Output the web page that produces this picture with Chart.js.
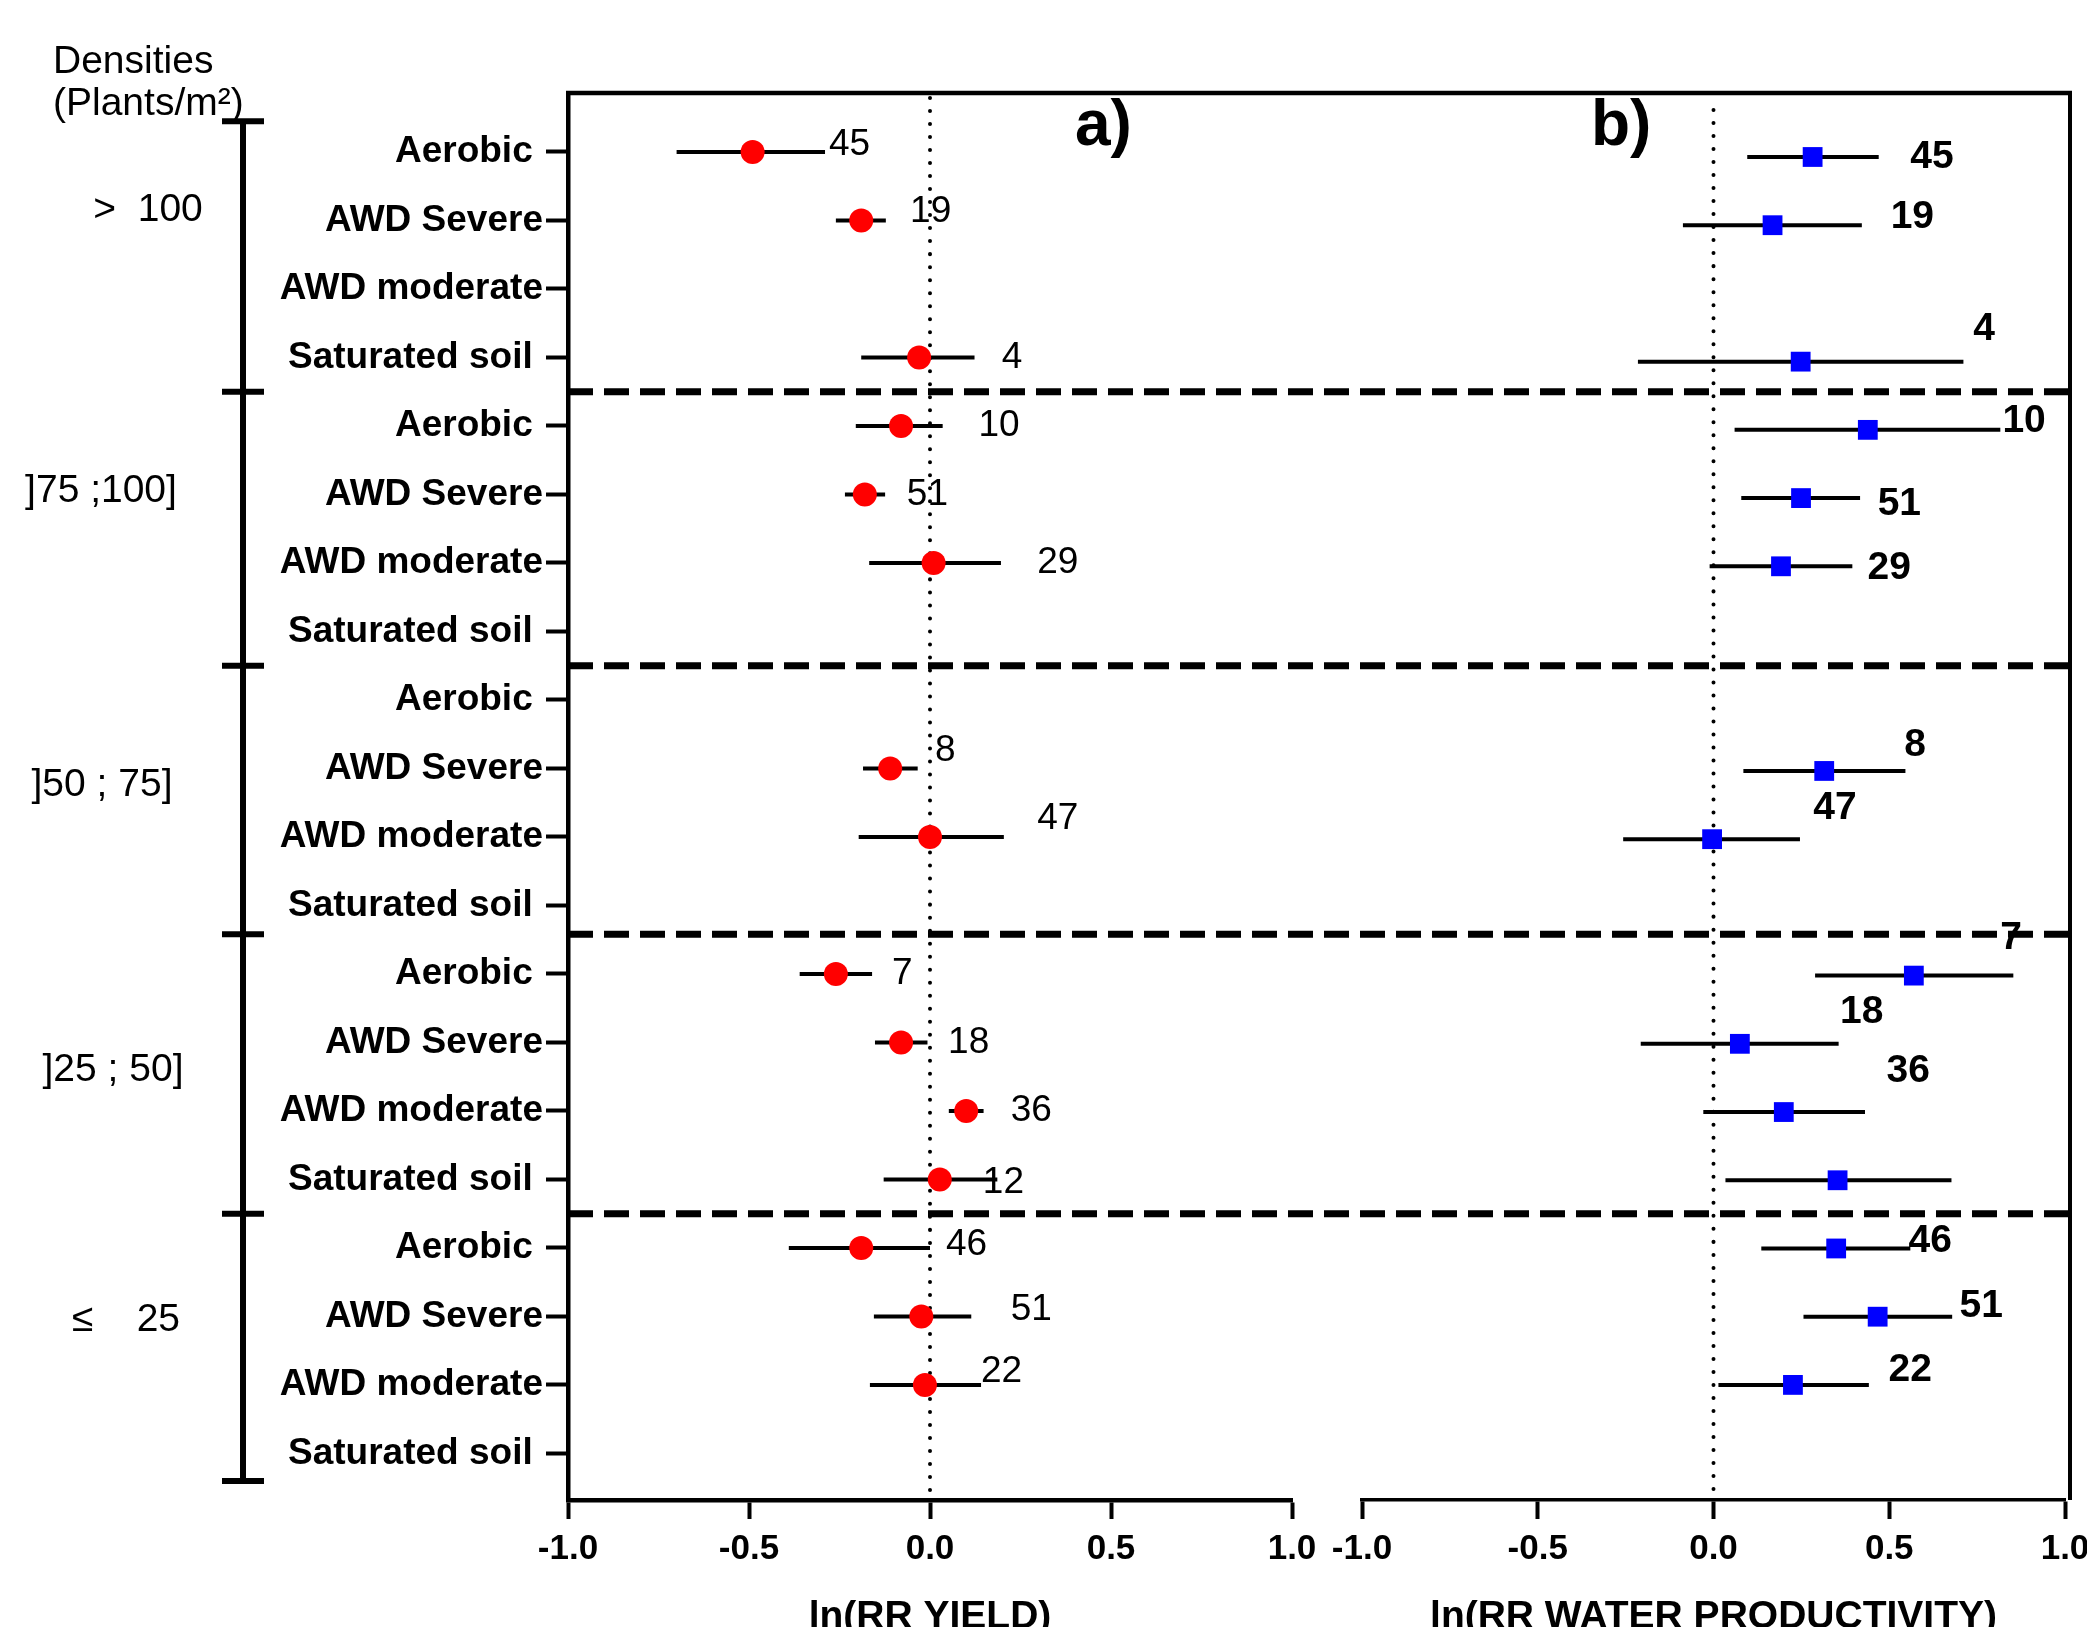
<!DOCTYPE html>
<html>
<head>
<meta charset="utf-8">
<script src="https://cdn.jsdelivr.net/npm/chart.js@4.4.0/dist/chart.umd.min.js"></script>
<style>
  html, body { margin: 0; padding: 0; background: #fff; overflow: hidden; }
  #wrap { position: relative; width: 2087px; height: 1627px; }
  #wrap canvas { position: absolute; left: 0; top: 0; }
</style>
</head>
<body>
<div id="wrap">
  <canvas id="yield-chart" width="2087" height="1627"></canvas>
  <canvas id="wp-chart" width="2087" height="1627"></canvas>
</div>
<script>
// rows: 5 density groups x 4 water regimes, top to bottom
const treatments = ['Aerobic ', 'AWD Severe', 'AWD moderate', 'Saturated soil '];
const densityGroups = ['>  100', ']75 ;100]', ']50 ; 75]', ']25 ; 50]', '\u2264    25'];
const rowLabels = densityGroups.flatMap(() => treatments);

// a) ln(RR yield): mean, 95% CI and number of observations
const yieldMean = [-0.49, -0.19, null, -0.03,  -0.08, -0.18, 0.01, null,  null, -0.11, 0.00, null,  -0.26, -0.08, 0.10, 0.027,  -0.19, -0.024, -0.014, null];
const yieldLow  = [-0.70, -0.26, null, -0.19,  -0.205, -0.235, -0.168, null,  null, -0.185, -0.197, null,  -0.36, -0.152, 0.052, -0.128,  -0.39, -0.155, -0.166, null];
const yieldHigh = [-0.29, -0.122, null, 0.123,  0.035, -0.124, 0.196, null,  null, -0.034, 0.204, null,  -0.16, -0.007, 0.148, 0.186,  0.00, 0.114, 0.141, null];
const yieldN    = [45, 19, null, 4,  10, 51, 29, null,  null, 8, 47, null,  7, 18, 36, 12,  46, 51, 22, null];

// b) ln(RR water productivity)
const wpMean = [0.282, 0.168, null, 0.248,  0.439, 0.249, 0.192, null,  null, 0.315, -0.004, null,  0.570, 0.075, 0.200, 0.353,  0.349, 0.467, 0.226, null];
const wpLow  = [0.096, -0.087, null, -0.215,  0.06, 0.079, -0.011, null,  null, 0.085, -0.257, null,  0.289, -0.207, -0.029, 0.034,  0.136, 0.256, 0.014, null];
const wpHigh = [0.470, 0.422, null, 0.711,  0.816, 0.417, 0.395, null,  null, 0.546, 0.246, null,  0.853, 0.356, 0.431, 0.677,  0.560, 0.679, 0.442, null];
const wpN    = [45, 19, null, 4,  10, 51, 29, null,  null, 8, 47, null,  7, 18, 36, null,  46, 51, 22, null];

// where the n labels sit (x in ln units, vertical shift in rows)
const yieldLabelX  = [-0.279, -0.055, null, 0.198,  0.134, -0.064, 0.296, null,  null, 0.014, 0.296, null,  -0.105, 0.05, 0.223, 0.146,  0.044, 0.223, 0.141, null];
const yieldLabelDy = [-0.1, -0.13, 0, 0,  0, 0, 0, 0,  0, -0.26, -0.26, 0,  0, 0, 0, 0.05,  -0.05, -0.1, -0.19, 0];
const wpLabelX  = [0.560, 0.504, null, 0.739,  0.822, 0.467, 0.438, null,  null, 0.543, 0.284, null,  0.816, 0.360, 0.492, null,  0.555, 0.70, 0.498, null];
const wpLabelDy = [0, -0.12, 0, -0.47,  -0.12, 0.09, 0.03, 0,  0, -0.38, -0.45, 0,  -0.55, -0.47, -0.6, 0,  -0.11, -0.16, -0.21, 0];

// group brackets (row units) and where each density label goes
const groupBounds = [-0.45, 3.5, 7.5, 11.42, 15.5, 19.4];
const groupLabelRow = [0.85, 4.95, 9.25, 13.4, 17.05];
const groupLabelX = [148, 101, 102, 113, 126];

Chart.defaults.font.family = "'Liberation Sans', Arial, Helvetica, sans-serif";
Chart.defaults.color = '#000';

const W = 2087;
const PANEL_B_PAD_RIGHT = 22;
const FRAME_RIGHT = W - PANEL_B_PAD_RIGHT + 5;

function toPoints(values) {
    return values.map((v, i) => ({ x: v, y: i })).filter(p => p.x !== null);
}

function xAxis(title, borderWidth) {
    return {
        type: 'linear', position: 'bottom', min: -1, max: 1,
        ticks: {
            stepSize: 0.5,
            maxRotation: 0,
            padding: 9,
            font: { size: 35, weight: 'bold' },
            color: '#000',
            callback: v => v.toFixed(1)
        },
        grid: { display: true, drawOnChartArea: false, drawTicks: true, tickLength: 19, tickWidth: 4, tickColor: '#000' },
        border: { display: true, color: '#000', width: borderWidth },
        title: { display: true, text: title, color: '#000', padding: 0, font: { size: 39, weight: 'bold', lineHeight: 0.5 } },
        afterFit: s => { s.height = 127; s.paddingLeft = 0; s.paddingRight = 0; }
    };
}

function forestPlugin(id, opts) {
    return {
        id: id,
        beforeDatasetsDraw(chart) {
            const { ctx, chartArea } = chart;
            const xs = chart.scales.x, ys = chart.scales.y;
            const x0 = xs.getPixelForValue(0);

            // dotted line of no effect
            ctx.save();
            ctx.strokeStyle = '#000';
            ctx.lineWidth = 4;
            ctx.lineCap = 'round';
            ctx.setLineDash([0.01, 13]);
            ctx.beginPath();
            ctx.moveTo(x0, chartArea.top + opts.dotStart);
            ctx.lineTo(x0, chartArea.bottom);
            ctx.stroke();
            ctx.restore();

            // confidence intervals
            ctx.save();
            ctx.strokeStyle = '#000';
            ctx.lineWidth = 4;
            opts.low.forEach((lo, i) => {
                if (lo === null) return;
                const y = ys.getPixelForValue(i);
                ctx.beginPath();
                ctx.moveTo(xs.getPixelForValue(lo), y);
                ctx.lineTo(xs.getPixelForValue(opts.high[i]), y);
                ctx.stroke();
            });
            ctx.restore();
        },
        afterDatasetsDraw(chart) {
            const { ctx } = chart;
            const xs = chart.scales.x, ys = chart.scales.y;
            ctx.save();
            ctx.fillStyle = '#000';
            ctx.font = opts.labelFont;
            ctx.textAlign = 'left';
            ctx.textBaseline = 'middle';
            opts.n.forEach((n, i) => {
                if (n === null || opts.labelX[i] === null) return;
                ctx.fillText(String(n), xs.getPixelForValue(opts.labelX[i]), ys.getPixelForValue(i + opts.labelDy[i]));
            });
            ctx.restore();
        }
    };
}

const frameA = {
    id: 'frameA',
    afterDraw(chart) {
        const { ctx, chartArea } = chart;
        const ys = chart.scales.y;

        ctx.save();
        ctx.strokeStyle = '#000';
        ctx.fillStyle = '#000';

        // top border over both panels
        ctx.lineWidth = 4.5;
        ctx.beginPath();
        ctx.moveTo(chartArea.left - 2, chartArea.top);
        ctx.lineTo(FRAME_RIGHT + 2, chartArea.top);
        ctx.stroke();

        // dashed separators between density groups
        ctx.lineWidth = 7;
        ctx.setLineDash([25, 11]);
        groupBounds.slice(1, -1).forEach(b => {
            const y = ys.getPixelForValue(b);
            ctx.beginPath();
            ctx.moveTo(chartArea.left, y);
            ctx.lineTo(FRAME_RIGHT, y);
            ctx.stroke();
        });
        ctx.setLineDash([]);

        // density bracket
        const bx = 243;
        ctx.lineWidth = 6;
        ctx.beginPath();
        ctx.moveTo(bx, ys.getPixelForValue(groupBounds[0]));
        ctx.lineTo(bx, ys.getPixelForValue(groupBounds[groupBounds.length - 1]));
        ctx.stroke();
        groupBounds.forEach(b => {
            const y = ys.getPixelForValue(b);
            ctx.beginPath();
            ctx.moveTo(bx - 21, y);
            ctx.lineTo(bx + 21, y);
            ctx.stroke();
        });

        ctx.font = '39px "Liberation Sans", Arial, sans-serif';
        ctx.textAlign = 'center';
        ctx.textBaseline = 'middle';
        densityGroups.forEach((g, i) => {
            ctx.fillText(g, groupLabelX[i], ys.getPixelForValue(groupLabelRow[i]));
        });

        ctx.textAlign = 'left';
        ctx.textBaseline = 'alphabetic';
        ctx.fillText('Densities', 53, 73);
        ctx.fillText('(Plants/m\u00b2)', 53, 115);

        // panel letters
        ctx.font = 'bold 64px "Liberation Sans", Arial, sans-serif';
        ctx.fillText('a)', 1075, 145);
        ctx.fillText('b)', 1591, 145);
        ctx.restore();
    }
};

const frameB = {
    id: 'frameB',
    afterDraw(chart) {
        const { ctx, chartArea } = chart;
        ctx.save();
        ctx.strokeStyle = '#000';
        ctx.lineWidth = 4;
        ctx.beginPath();
        ctx.moveTo(FRAME_RIGHT, chartArea.top - 2);
        ctx.lineTo(FRAME_RIGHT, chartArea.bottom);
        ctx.stroke();
        ctx.restore();
    }
};

const yieldChart = new Chart(document.getElementById('yield-chart'), {
    type: 'scatter',
    data: {
        datasets: [{
            label: 'ln(RR YIELD)',
            data: toPoints(yieldMean),
            pointStyle: 'circle',
            pointRadius: 12,
            backgroundColor: '#ff0000',
            borderWidth: 0
        }]
    },
    options: {
        responsive: false,
        animation: false,
        events: [],
        layout: { padding: { top: 93, left: 0, right: W - 1292, bottom: 0 } },
        plugins: { legend: { display: false }, tooltip: { enabled: false } },
        scales: {
            x: xAxis('ln(RR YIELD)', 4.5),
            y: {
                type: 'linear', reverse: true, min: -0.861, max: 19.679,
                afterBuildTicks: s => { s.ticks = rowLabels.map((_, i) => ({ value: i })); },
                ticks: {
                    autoSkip: false,
                    padding: 3,
                    font: { size: 37, weight: 'bold' },
                    color: '#000',
                    callback: v => rowLabels[v]
                },
                grid: { display: true, drawOnChartArea: false, drawTicks: true, tickLength: 22, tickWidth: 4, tickColor: '#000' },
                border: { display: true, color: '#000', width: 4.5 },
                afterFit: s => { s.width = 568; s.paddingTop = 0; s.paddingBottom = 0; }
            }
        }
    },
    plugins: [
        forestPlugin('yieldBars', {
            low: yieldLow, high: yieldHigh, n: yieldN,
            labelX: yieldLabelX, labelDy: yieldLabelDy,
            labelFont: '37px "Liberation Sans", Arial, sans-serif',
            dotStart: 5
        }),
        frameA
    ]
});

const wpChart = new Chart(document.getElementById('wp-chart'), {
    type: 'scatter',
    data: {
        datasets: [{
            label: 'ln(RR WATER PRODUCTIVITY)',
            data: toPoints(wpMean),
            pointStyle: 'rect',
            pointRadius: 14,
            backgroundColor: '#0000ff',
            borderWidth: 0
        }]
    },
    options: {
        responsive: false,
        animation: false,
        events: [],
        layout: { padding: { top: 93, left: 1362, right: PANEL_B_PAD_RIGHT, bottom: 0 } },
        plugins: { legend: { display: false }, tooltip: { enabled: false } },
        scales: {
            x: xAxis('ln(RR WATER PRODUCTIVITY)', 3.5),
            y: { type: 'linear', reverse: true, min: -0.938, max: 19.687, display: false }
        }
    },
    plugins: [
        forestPlugin('wpBars', {
            low: wpLow, high: wpHigh, n: wpN,
            labelX: wpLabelX, labelDy: wpLabelDy,
            labelFont: 'bold 39px "Liberation Sans", Arial, sans-serif',
            dotStart: 17
        }),
        frameB
    ]
});
</script>
</body>
</html>
